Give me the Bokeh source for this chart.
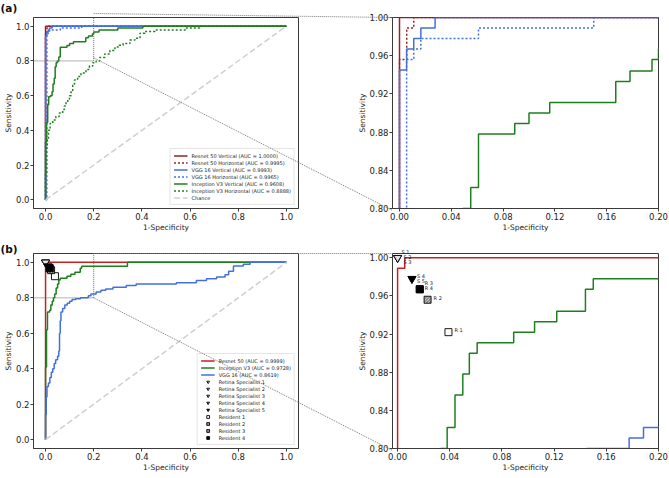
from bokeh.plotting import figure
from bokeh.layouts import column, row
from bokeh.models import (Range1d, FixedTicker, NumeralTickFormatter, Legend,
                          LegendItem, Plot, ColumnDataSource, Segment, Text)
from bokeh.core.properties import value
from bokeh.embed import file_html
from bokeh.resources import INLINE

FONT = "DejaVu Sans"

# ---------------- data: panel (a) ----------------
res_v_fpr = [0.0, 0.0, 1.0]
res_v_tpr = [0.0, 1.0, 1.0]
res_h_fpr = [0.0, 0.0, 0.0056, 0.011, 1.0]
res_h_tpr = [0.0, 0.956, 0.989, 1.0, 1.0]
vgg_v_fpr = [0.0, 0.0, 0.0055, 0.011, 0.0165, 0.0275, 1.0]
vgg_v_tpr = [0.0, 0.945, 0.967, 0.978, 0.989, 1.0, 1.0]
vgg_h_fpr = [0.0, 0.0055, 0.0055, 0.011, 0.0165, 0.061, 0.15, 1.0]
vgg_h_tpr = [0.0, 0.0, 0.956, 0.967, 0.978, 0.989, 1.0, 1.0]
inc_v_fpr = [0.0, 0.0, 0.004, 0.009, 0.013, 0.02, 0.027, 0.031, 0.036, 0.04, 0.044,
             0.049, 0.055, 0.061, 0.089, 0.1, 0.116, 0.167, 0.178, 0.195, 0.2,
             0.222, 0.3, 0.404, 1.0]
inc_v_tpr = [0.0, 0.333, 0.446, 0.547, 0.593, 0.6, 0.622, 0.667, 0.7, 0.767, 0.789,
             0.8, 0.822, 0.878, 0.889, 0.9, 0.911, 0.933, 0.944, 0.956, 0.967,
             0.978, 0.989, 1.0, 1.0]
inc_h_fpr = [0.0, 0.0, 0.004, 0.007, 0.012, 0.019, 0.03, 0.043, 0.057, 0.071, 0.078,
             0.085, 0.092, 0.099, 0.106, 0.113, 0.12, 0.133, 0.147, 0.168, 0.182,
             0.196, 0.21, 0.225, 0.246, 0.267, 0.288, 0.305, 0.322, 0.35, 0.371,
             0.392, 0.412, 0.454, 0.58, 0.64, 1.0]
inc_h_tpr = [0.0, 0.15, 0.3, 0.35, 0.4, 0.44, 0.46, 0.48, 0.5, 0.52, 0.54,
             0.56, 0.58, 0.6, 0.63, 0.66, 0.69, 0.71, 0.73, 0.75, 0.77,
             0.79, 0.8, 0.82, 0.84, 0.86, 0.88, 0.89, 0.9, 0.92, 0.93,
             0.96, 0.97, 0.978, 0.989, 1.0, 1.0]
labels_a = ["Resnet 50 Vertical (AUC = 1.0000)", "Resnet 50 Horizontal (AUC = 0.9995)",
            "VGG 16 Vertical (AUC = 0.9993)", "VGG 16 Horizontal (AUC = 0.9965)",
            "Inception V3 Vertical (AUC = 0.9608)", "Inception V3 Horizontal (AUC = 0.8888)",
            "Chance"]

# ---------------- data: panel (b) ----------------
res_b_fpr = [0.0, 0.0, 0.0055, 1.0]
res_b_tpr = [0.0, 0.989, 1.0, 1.0]
inc_b_fpr = [0.0, 0.0, 0.004, 0.008, 0.017, 0.022, 0.028, 0.033, 0.038, 0.044, 0.05,
             0.055, 0.061, 0.089, 0.105, 0.122, 0.144, 0.15, 0.34, 1.0]
inc_b_tpr = [0.0, 0.41, 0.62, 0.72, 0.73, 0.76, 0.78, 0.8, 0.822, 0.856, 0.878,
             0.9, 0.911, 0.922, 0.933, 0.944, 0.967, 0.978, 1.0, 1.0]
vgg_b_fpr = [0.0, 0.0, 0.003, 0.006, 0.012, 0.018, 0.024, 0.03, 0.036, 0.042, 0.05,
             0.055, 0.058, 0.061, 0.064, 0.071, 0.08, 0.09, 0.1, 0.11, 0.125, 0.145,
             0.1775, 0.1885, 0.21, 0.23, 0.25, 0.28, 0.335, 0.376, 0.543, 0.626,
             0.668, 0.71, 0.745, 0.76, 0.78, 0.821, 0.849, 1.0]
vgg_b_tpr = [0.0, 0.14, 0.24, 0.3, 0.32, 0.35, 0.38, 0.4, 0.43, 0.45, 0.47,
             0.5, 0.6, 0.67, 0.72, 0.74, 0.76, 0.77, 0.78, 0.79, 0.795, 0.8,
             0.811, 0.822, 0.833, 0.843, 0.85, 0.86, 0.87, 0.878, 0.885, 0.897,
             0.907, 0.917, 0.93, 0.95, 0.98, 0.99, 1.0, 1.0]
labels_b = ["Resnet 50 (AUC = 0.9999)", "Inception V3 (AUC = 0.9728)", "VGG 16 (AUC = 0.8619)"]

spec_names = ["Retina Specialist 1", "Retina Specialist 2", "Retina Specialist 3",
              "Retina Specialist 4", "Retina Specialist 5"]
spec_short = ["S 1", "S 2", "S 3", "S 4", "S 5"]
spec_fpr = [0.0, 0.0, 0.0, 0.011, 0.011]
spec_tpr = [1.0, 1.0, 1.0, 0.978, 0.978]
res_names = ["Resident 1", "Resident 2", "Resident 3", "Resident 4"]
res_short = ["R 1", "R 2", "R 3", "R 4"]
resid_fpr = [0.039, 0.023, 0.017, 0.017]
resid_tpr = [0.922, 0.956, 0.967, 0.967]

chance_x = [0.0, 1.0]
chance_y = [0.0, 1.0]
full_ticks = [0.0, 0.2, 0.4, 0.6, 0.8, 1.0]
zoom_x_ticks = [0.0, 0.04, 0.08, 0.12, 0.16, 0.2]
zoom_y_ticks = [0.8, 0.84, 0.88, 0.92, 0.96, 1.0]
panel_tags = ["(a)", "(b)"]
ZOOM_X = 0.2   # inset: 1-specificity up to 0.2
ZOOM_Y = 0.8   # inset: sensitivity from 0.8

# ---------------- styles ----------------
RED_A = "#962222"
RED_B = "#c42222"
BLUE = "#4470dd"
GREEN = "#1f7f1f"
GREY_CHANCE = "#cfcfcf"
AX = "#3a3a3a"
CONN = "#777777"
spec_fill = ["white", "#f2f2f2", "#e2e2e2", "#8c8c8c", "black"]
res_fill = ["white", "white", "#9a9a9a", "black"]
res_hatch = [" ", "\\", " ", " "]
spec_off = [(4, -6), (6, -1), (6, 4), (5, -3), (5, 2)]     # screen px (dx, dy down)
res_off = [(6, -3), (6, -2), (5, -7), (5, -2)]

# ---------------- layout (page pixels, origin top-left) ----------------
PW, PH = 669, 478
W_L, W_R = 338, 331
H_T, H_B = 240, 238
S = {
    "a":  dict(ox=0, oy=0, w=W_L, h=H_T, bl=33, br=40, bt=13, bb=32,
               xr=(-0.05, 1.05), yr=(-0.05, 1.05)),
    "a2": dict(ox=W_L, oy=0, w=W_R, h=H_T, bl=54, br=11, bt=17, bb=30,
               xr=(-0.0054, 0.2), yr=(0.8, 1.0)),
    "b":  dict(ox=0, oy=H_T, w=W_L, h=H_B, bl=33, br=40, bt=13, bb=30,
               xr=(-0.05, 1.05), yr=(-0.05, 1.05)),
    "b2": dict(ox=W_L, oy=H_T, w=W_R, h=H_B, bl=54, br=11, bt=13, bb=28,
               xr=(-0.0039, 0.2), yr=(0.8, 1.0045)),
}


def to_page(s, x, y):
    fx0, fx1 = s["bl"], s["w"] - s["br"]
    fy0, fy1 = s["bt"], s["h"] - s["bb"]
    (x0, x1), (y0, y1) = s["xr"], s["yr"]
    sx = fx0 + (x - x0) / (x1 - x0) * (fx1 - fx0)
    sy = fy0 + (y1 - y) / (y1 - y0) * (fy1 - fy0)
    return s["ox"] + sx, s["oy"] + sy


def make_fig(s, xt, yt, fmt):
    p = figure(width=s["w"], height=s["h"], x_range=Range1d(*s["xr"]),
               y_range=Range1d(*s["yr"]), output_backend="svg", toolbar_location=None,
               min_border_left=s["bl"], min_border_right=s["br"],
               min_border_top=s["bt"], min_border_bottom=s["bb"])
    p.title.visible = False
    p.xgrid.visible = False
    p.ygrid.visible = False
    p.outline_line_color = AX
    p.outline_line_width = 1
    p.background_fill_color = "white"
    p.border_fill_color = "white"
    p.xaxis.ticker = FixedTicker(ticks=xt)
    p.yaxis.ticker = FixedTicker(ticks=yt)
    p.xaxis.axis_label = "1-Specificity"
    p.yaxis.axis_label = "Sensitivity"
    for ax in (p.xaxis[0], p.yaxis[0]):
        ax.formatter = NumeralTickFormatter(format=fmt)
        ax.major_label_text_font = FONT
        ax.major_label_text_font_size = "8.5px"
        ax.major_label_text_color = "#222222"
        ax.axis_label_text_font = FONT
        ax.axis_label_text_font_size = "7.5px"
        ax.axis_label_text_font_style = "normal"
        ax.axis_label_text_color = "#222222"
        ax.major_tick_out = 3
        ax.major_tick_in = 0
        ax.minor_tick_line_color = None
        ax.axis_line_color = AX
        ax.major_tick_line_color = AX
        ax.major_label_standoff = 1
        ax.axis_label_standoff = 0
    return p


def make_legend(items):
    return Legend(items=items, location="bottom_right", margin=3, padding=3,
                  spacing=0, glyph_height=7, glyph_width=14, label_height=7,
                  label_standoff=4, label_text_font=FONT, label_text_font_size="5px",
                  label_text_color="#222222", border_line_color="#cccccc",
                  border_line_width=1, background_fill_alpha=0.85)


def add_inset_marks(p, s):
    (x0, x1), (y0, y1) = s["xr"], s["yr"]
    p.line([ZOOM_X, ZOOM_X], [ZOOM_Y, y1], line_color="#666666", line_dash="1 1",
           line_width=1)
    p.line([x0, ZOOM_X], [ZOOM_Y, ZOOM_Y], line_color="#666666", line_dash="1 1",
           line_width=1)


def draw_a(p):
    rs = []
    rs.append(p.step(res_v_fpr, res_v_tpr, mode="after", line_color=RED_A, line_width=1.5))
    rs.append(p.step(res_h_fpr, res_h_tpr, mode="after", line_color=RED_A, line_width=1.5,
                     line_dash="2 2"))
    rs.append(p.step(vgg_v_fpr, vgg_v_tpr, mode="after", line_color=BLUE, line_width=1.5))
    rs.append(p.step(vgg_h_fpr, vgg_h_tpr, mode="after", line_color=BLUE, line_width=1.5,
                     line_dash="2 2"))
    rs.append(p.step(inc_v_fpr, inc_v_tpr, mode="after", line_color=GREEN, line_width=1.5))
    rs.append(p.step(inc_h_fpr, inc_h_tpr, mode="after", line_color=GREEN, line_width=1.5,
                     line_dash="2 2"))
    rs.append(p.line(chance_x, chance_y, line_color=GREY_CHANCE, line_width=1.5,
                     line_dash="6 3"))
    return rs


def draw_b(p):
    rs = []
    rs.append(p.step(res_b_fpr, res_b_tpr, mode="after", line_color=RED_B, line_width=1.5))
    rs.append(p.step(inc_b_fpr, inc_b_tpr, mode="after", line_color=GREEN, line_width=1.5))
    rs.append(p.step(vgg_b_fpr, vgg_b_tpr, mode="after", line_color=BLUE, line_width=1.5))
    p.line(chance_x, chance_y, line_color=GREY_CHANCE, line_width=1.5, line_dash="6 3")
    for i in range(len(spec_fpr)):
        rs.append(p.scatter([spec_fpr[i]], [spec_tpr[i]], marker="inverted_triangle",
                            size=8, fill_color=spec_fill[i], line_color="black",
                            line_width=0.9))
    for i in range(len(resid_fpr)):
        rs.append(p.scatter([resid_fpr[i]], [resid_tpr[i]], marker="square", size=7,
                            fill_color=res_fill[i], line_color="black", line_width=0.9,
                            hatch_pattern=res_hatch[i], hatch_color="black",
                            hatch_scale=3, hatch_weight=0.6))
    return rs


# ---------- panel (a) ----------
pa = make_fig(S["a"], full_ticks, full_ticks, "0.0")
ra = draw_a(pa)
add_inset_marks(pa, S["a"])
pa.add_layout(make_legend([LegendItem(label=l, renderers=[r]) for l, r in zip(labels_a, ra)]))

pa2 = make_fig(S["a2"], zoom_x_ticks, zoom_y_ticks, "0.00")
draw_a(pa2)

# ---------- panel (b) ----------
pb = make_fig(S["b"], full_ticks, full_ticks, "0.0")
rb = draw_b(pb)
add_inset_marks(pb, S["b"])
names_b = labels_b + spec_names + res_names
pb.add_layout(make_legend([LegendItem(label=l, renderers=[r]) for l, r in zip(names_b, rb)]))

pb2 = make_fig(S["b2"], zoom_x_ticks, zoom_y_ticks, "0.00")
draw_b(pb2)

# ---------- transparent page overlay: connectors, panel tags, point labels ----------
ov = Plot(width=PW, height=PH, x_range=Range1d(0, PW), y_range=Range1d(PH, 0),
          min_border=0, min_border_left=0, min_border_right=0, min_border_top=0,
          min_border_bottom=0, toolbar_location=None, title=None,
          outline_line_color=None, background_fill_alpha=0, border_fill_alpha=0,
          output_backend="svg",
          styles={"position": "absolute", "top": "0px", "left": "0px"})

cx0, cy0, cx1, cy1 = [], [], [], []
for left, right in (("a", "a2"), ("b", "b2")):
    sl, sr = S[left], S[right]
    for (lx, ly), (rx, ry) in (((ZOOM_X, sl["yr"][1]), (sr["xr"][0], sr["yr"][1])),
                               ((ZOOM_X, ZOOM_Y), (sr["xr"][0], sr["yr"][0]))):
        p0 = to_page(sl, lx, ly)
        p1 = to_page(sr, rx, ry)
        cx0.append(p0[0]); cy0.append(p0[1]); cx1.append(p1[0]); cy1.append(p1[1])
ov.add_glyph(ColumnDataSource(dict(x0=cx0, y0=cy0, x1=cx1, y1=cy1)),
             Segment(x0="x0", y0="y0", x1="x1", y1="y1", line_color=CONN,
                     line_width=1, line_dash="1 1"))

ov.add_glyph(ColumnDataSource(dict(x=[0, 0], y=[1, H_T + 2], t=panel_tags)),
             Text(x="x", y="y", text="t", text_font=value(FONT), text_font_size="10.5px",
                  text_font_style="bold", text_baseline="top", text_align="left",
                  text_color="#111111"))

lx, ly, lt = [], [], []
for i in range(len(spec_fpr)):
    px, py = to_page(S["b2"], spec_fpr[i], spec_tpr[i])
    lx.append(px + spec_off[i][0]); ly.append(py + spec_off[i][1]); lt.append(spec_short[i])
for i in range(len(resid_fpr)):
    px, py = to_page(S["b2"], resid_fpr[i], resid_tpr[i])
    lx.append(px + res_off[i][0]); ly.append(py + res_off[i][1]); lt.append(res_short[i])
ov.add_glyph(ColumnDataSource(dict(x=lx, y=ly, t=lt)),
             Text(x="x", y="y", text="t", text_font=value(FONT), text_font_size="5px",
                  text_baseline="middle", text_align="left", text_color="#222222"))

layout = column(row(pa, pa2), row(pb, pb2), ov)
open("out.html", "w").write(file_html(layout, INLINE))
